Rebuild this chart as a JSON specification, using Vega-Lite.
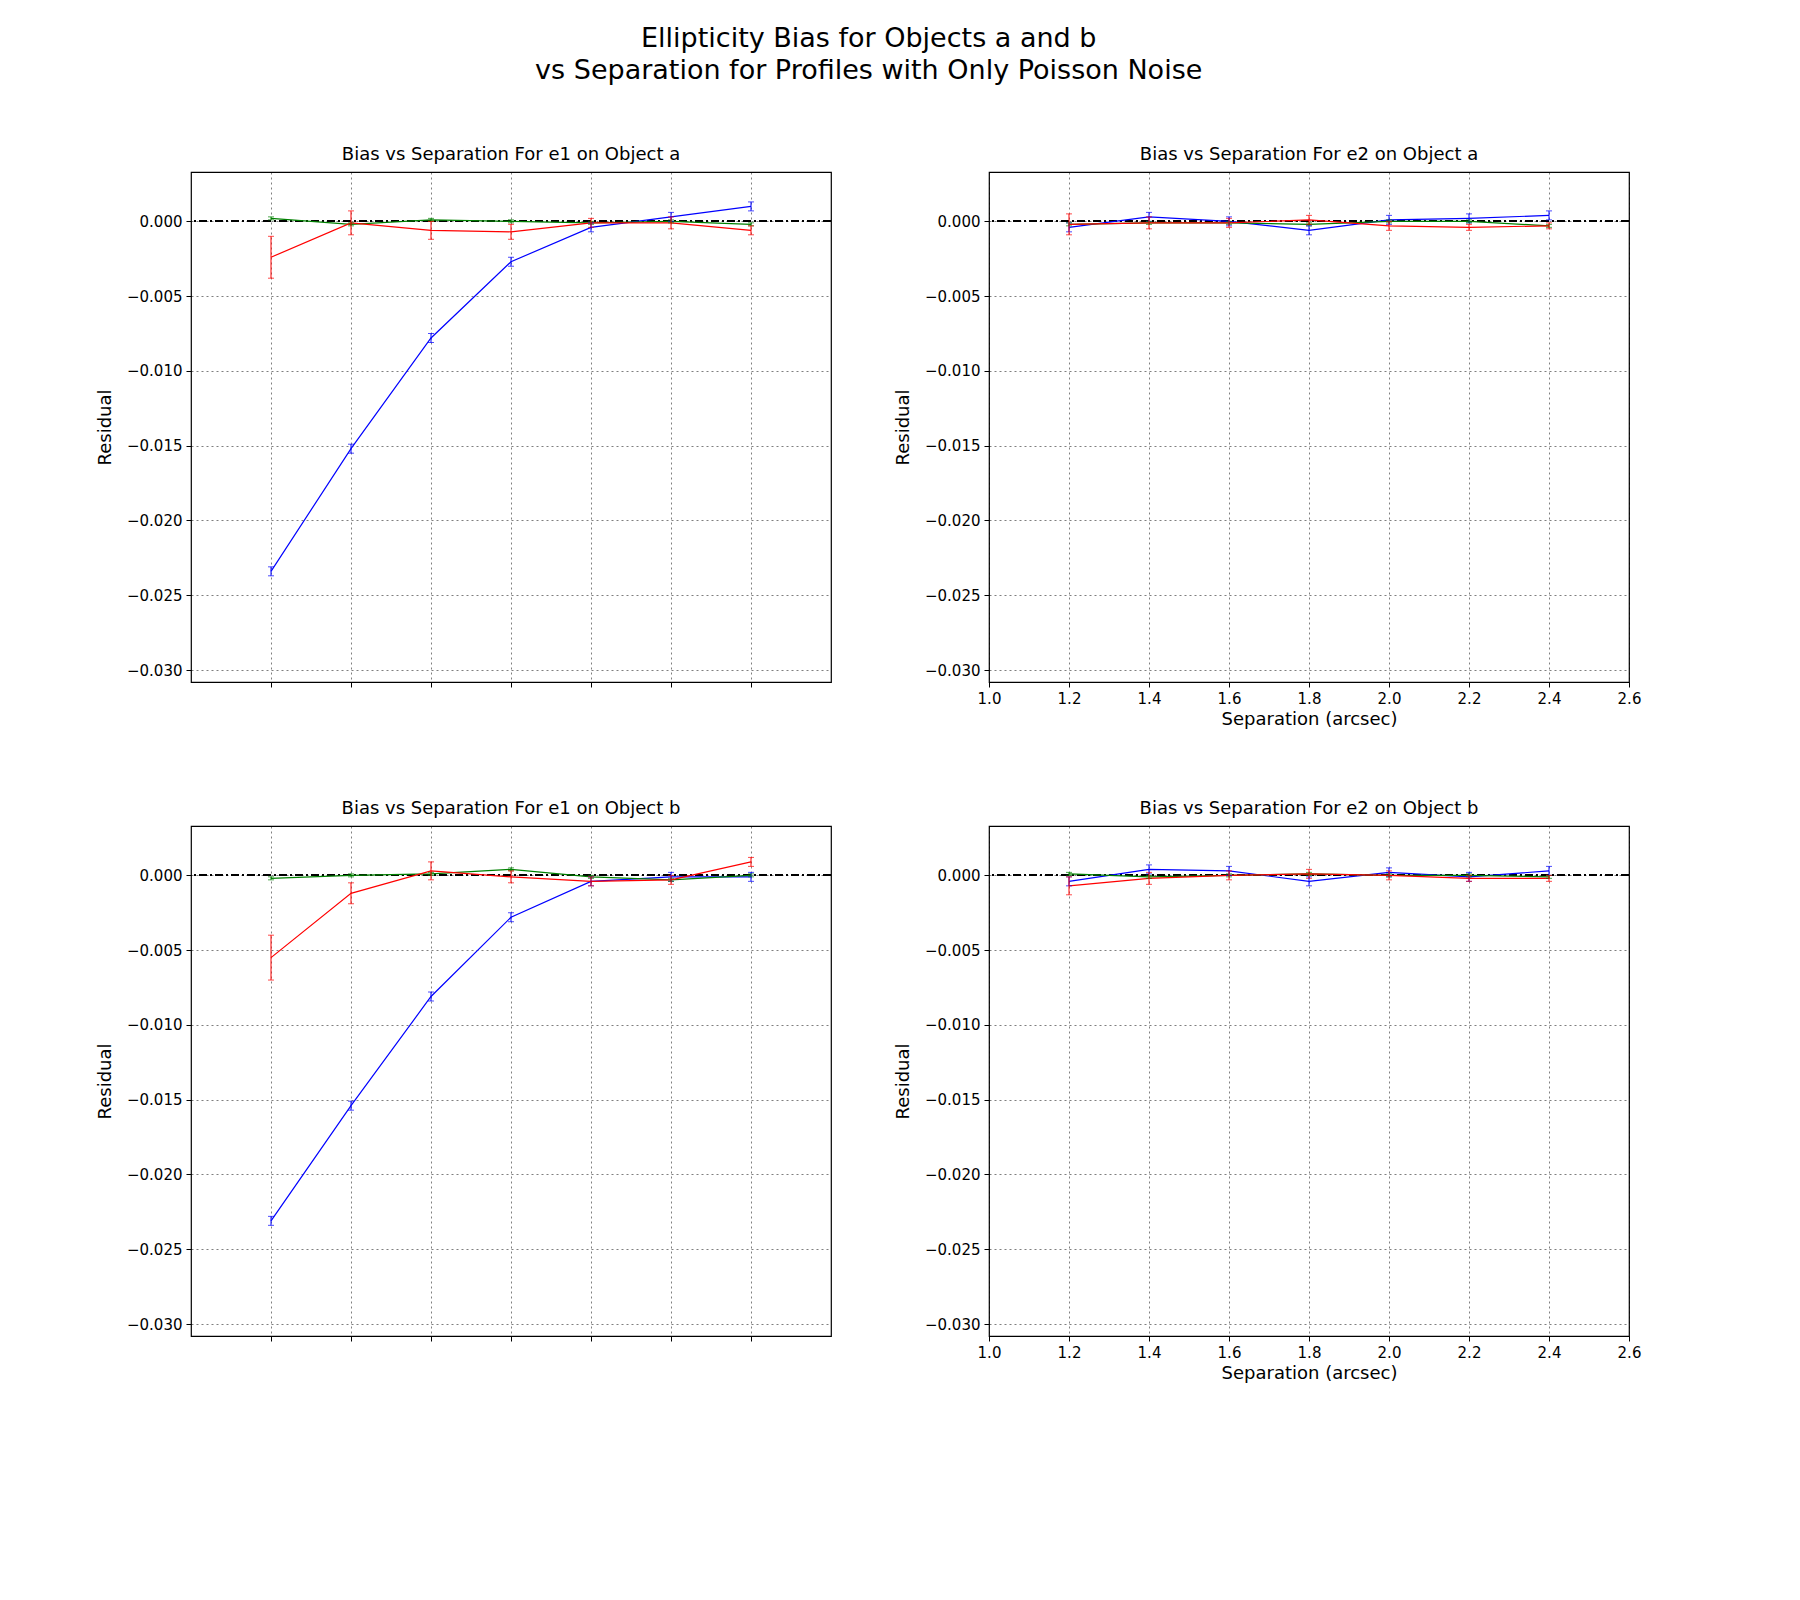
{
  "$schema": "https://vega.github.io/schema/vega-lite/v6.json",
  "background": "white",
  "padding": {"left": 95, "top": 25, "right": 20, "bottom": 10},
  "title": {"text": ["Ellipticity Bias for Objects a and b", "vs Separation for Profiles with Only Poisson Noise"], "fontSize": 27, "fontWeight": "normal", "font": "DejaVu Sans", "anchor": "middle", "offset": 60, "lineHeight": 32},
  "datasets": {
    "pts": [
      {"panel": "e1a", "series": "Deblending", "x": 1.2, "y": -0.0234, "err": 0.0003},
      {"panel": "e1a", "series": "Deblending", "x": 1.4, "y": -0.0152, "err": 0.0003},
      {"panel": "e1a", "series": "Deblending", "x": 1.6, "y": -0.0078, "err": 0.0003},
      {"panel": "e1a", "series": "Deblending", "x": 1.8, "y": -0.0027, "err": 0.0003},
      {"panel": "e1a", "series": "Deblending", "x": 2.0, "y": -0.0004, "err": 0.0003},
      {"panel": "e1a", "series": "Deblending", "x": 2.2, "y": 0.0003, "err": 0.0003},
      {"panel": "e1a", "series": "Deblending", "x": 2.4, "y": 0.0010, "err": 0.0003},
      {"panel": "e1a", "series": "True", "x": 1.2, "y": 0.0002, "err": 0.0001},
      {"panel": "e1a", "series": "True", "x": 1.4, "y": -0.0002, "err": 0.0001},
      {"panel": "e1a", "series": "True", "x": 1.6, "y": 0.0001, "err": 0.0001},
      {"panel": "e1a", "series": "True", "x": 1.8, "y": 0.0, "err": 0.0001},
      {"panel": "e1a", "series": "True", "x": 2.0, "y": -0.0001, "err": 0.0001},
      {"panel": "e1a", "series": "True", "x": 2.2, "y": 0.0, "err": 0.0001},
      {"panel": "e1a", "series": "True", "x": 2.4, "y": -0.0002, "err": 0.0001},
      {"panel": "e1a", "series": "Simultaneous Fitting", "x": 1.2, "y": -0.0024, "err": 0.0014},
      {"panel": "e1a", "series": "Simultaneous Fitting", "x": 1.4, "y": -0.0001, "err": 0.0008},
      {"panel": "e1a", "series": "Simultaneous Fitting", "x": 1.6, "y": -0.0006, "err": 0.0006},
      {"panel": "e1a", "series": "Simultaneous Fitting", "x": 1.8, "y": -0.0007, "err": 0.0005},
      {"panel": "e1a", "series": "Simultaneous Fitting", "x": 2.0, "y": -0.0001, "err": 0.0003},
      {"panel": "e1a", "series": "Simultaneous Fitting", "x": 2.2, "y": -0.0001, "err": 0.0004},
      {"panel": "e1a", "series": "Simultaneous Fitting", "x": 2.4, "y": -0.0006, "err": 0.0003},

      {"panel": "e2a", "series": "Deblending", "x": 1.2, "y": -0.0004, "err": 0.0003},
      {"panel": "e2a", "series": "Deblending", "x": 1.4, "y": 0.0003, "err": 0.0003},
      {"panel": "e2a", "series": "Deblending", "x": 1.6, "y": 0.0, "err": 0.0003},
      {"panel": "e2a", "series": "Deblending", "x": 1.8, "y": -0.0006, "err": 0.0003},
      {"panel": "e2a", "series": "Deblending", "x": 2.0, "y": 0.0001, "err": 0.0003},
      {"panel": "e2a", "series": "Deblending", "x": 2.2, "y": 0.0002, "err": 0.0003},
      {"panel": "e2a", "series": "Deblending", "x": 2.4, "y": 0.0004, "err": 0.0003},
      {"panel": "e2a", "series": "True", "x": 1.2, "y": -0.0002, "err": 0.0001},
      {"panel": "e2a", "series": "True", "x": 1.4, "y": -0.0001, "err": 0.0001},
      {"panel": "e2a", "series": "True", "x": 1.6, "y": -0.0001, "err": 0.0001},
      {"panel": "e2a", "series": "True", "x": 1.8, "y": -0.0002, "err": 0.0001},
      {"panel": "e2a", "series": "True", "x": 2.0, "y": 0.0, "err": 0.0001},
      {"panel": "e2a", "series": "True", "x": 2.2, "y": 0.0, "err": 0.0001},
      {"panel": "e2a", "series": "True", "x": 2.4, "y": -0.0003, "err": 0.0001},
      {"panel": "e2a", "series": "Simultaneous Fitting", "x": 1.2, "y": -0.0002, "err": 0.0007},
      {"panel": "e2a", "series": "Simultaneous Fitting", "x": 1.4, "y": -0.0001, "err": 0.0004},
      {"panel": "e2a", "series": "Simultaneous Fitting", "x": 1.6, "y": -0.0001, "err": 0.0003},
      {"panel": "e2a", "series": "Simultaneous Fitting", "x": 1.8, "y": 0.0001, "err": 0.0003},
      {"panel": "e2a", "series": "Simultaneous Fitting", "x": 2.0, "y": -0.0003, "err": 0.0003},
      {"panel": "e2a", "series": "Simultaneous Fitting", "x": 2.2, "y": -0.0004, "err": 0.0002},
      {"panel": "e2a", "series": "Simultaneous Fitting", "x": 2.4, "y": -0.0003, "err": 0.0002},

      {"panel": "e1b", "series": "Deblending", "x": 1.2, "y": -0.0231, "err": 0.0003},
      {"panel": "e1b", "series": "Deblending", "x": 1.4, "y": -0.0154, "err": 0.0003},
      {"panel": "e1b", "series": "Deblending", "x": 1.6, "y": -0.0081, "err": 0.0003},
      {"panel": "e1b", "series": "Deblending", "x": 1.8, "y": -0.0028, "err": 0.0003},
      {"panel": "e1b", "series": "Deblending", "x": 2.0, "y": -0.0004, "err": 0.0003},
      {"panel": "e1b", "series": "Deblending", "x": 2.2, "y": -0.0001, "err": 0.0003},
      {"panel": "e1b", "series": "Deblending", "x": 2.4, "y": -0.0001, "err": 0.0003},
      {"panel": "e1b", "series": "True", "x": 1.2, "y": -0.0002, "err": 0.0001},
      {"panel": "e1b", "series": "True", "x": 1.4, "y": 0.0, "err": 0.0001},
      {"panel": "e1b", "series": "True", "x": 1.6, "y": 0.0001, "err": 0.0001},
      {"panel": "e1b", "series": "True", "x": 1.8, "y": 0.0004, "err": 0.0001},
      {"panel": "e1b", "series": "True", "x": 2.0, "y": -0.0001, "err": 0.0001},
      {"panel": "e1b", "series": "True", "x": 2.2, "y": -0.0003, "err": 0.0001},
      {"panel": "e1b", "series": "True", "x": 2.4, "y": 0.0, "err": 0.0001},
      {"panel": "e1b", "series": "Simultaneous Fitting", "x": 1.2, "y": -0.0055, "err": 0.0015},
      {"panel": "e1b", "series": "Simultaneous Fitting", "x": 1.4, "y": -0.0012, "err": 0.0007},
      {"panel": "e1b", "series": "Simultaneous Fitting", "x": 1.6, "y": 0.0003, "err": 0.0006},
      {"panel": "e1b", "series": "Simultaneous Fitting", "x": 1.8, "y": -0.0001, "err": 0.0004},
      {"panel": "e1b", "series": "Simultaneous Fitting", "x": 2.0, "y": -0.0004, "err": 0.0003},
      {"panel": "e1b", "series": "Simultaneous Fitting", "x": 2.2, "y": -0.0003, "err": 0.0003},
      {"panel": "e1b", "series": "Simultaneous Fitting", "x": 2.4, "y": 0.0009, "err": 0.0003},

      {"panel": "e2b", "series": "Deblending", "x": 1.2, "y": -0.0004, "err": 0.0003},
      {"panel": "e2b", "series": "Deblending", "x": 1.4, "y": 0.0004, "err": 0.0003},
      {"panel": "e2b", "series": "Deblending", "x": 1.6, "y": 0.0003, "err": 0.0003},
      {"panel": "e2b", "series": "Deblending", "x": 1.8, "y": -0.0004, "err": 0.0003},
      {"panel": "e2b", "series": "Deblending", "x": 2.0, "y": 0.0002, "err": 0.0003},
      {"panel": "e2b", "series": "Deblending", "x": 2.2, "y": -0.0001, "err": 0.0003},
      {"panel": "e2b", "series": "Deblending", "x": 2.4, "y": 0.0003, "err": 0.0003},
      {"panel": "e2b", "series": "True", "x": 1.2, "y": 0.0001, "err": 0.0001},
      {"panel": "e2b", "series": "True", "x": 1.4, "y": -0.0001, "err": 0.0001},
      {"panel": "e2b", "series": "True", "x": 1.6, "y": 0.0, "err": 0.0001},
      {"panel": "e2b", "series": "True", "x": 1.8, "y": 0.0001, "err": 0.0001},
      {"panel": "e2b", "series": "True", "x": 2.0, "y": 0.0, "err": 0.0001},
      {"panel": "e2b", "series": "True", "x": 2.2, "y": 0.0, "err": 0.0001},
      {"panel": "e2b", "series": "True", "x": 2.4, "y": -0.0001, "err": 0.0001},
      {"panel": "e2b", "series": "Simultaneous Fitting", "x": 1.2, "y": -0.0007, "err": 0.0006},
      {"panel": "e2b", "series": "Simultaneous Fitting", "x": 1.4, "y": -0.0002, "err": 0.0004},
      {"panel": "e2b", "series": "Simultaneous Fitting", "x": 1.6, "y": 0.0, "err": 0.0003},
      {"panel": "e2b", "series": "Simultaneous Fitting", "x": 1.8, "y": 0.0001, "err": 0.0003},
      {"panel": "e2b", "series": "Simultaneous Fitting", "x": 2.0, "y": 0.0, "err": 0.0003},
      {"panel": "e2b", "series": "Simultaneous Fitting", "x": 2.2, "y": -0.0002, "err": 0.0002},
      {"panel": "e2b", "series": "Simultaneous Fitting", "x": 2.4, "y": -0.0002, "err": 0.0002}
    ]
  },
  "vconcat": [
    {"resolve": {"scale": {"color": "independent"}}, "hconcat": [
      {"title": "Bias vs Separation For e1 on Object a", "width": 640, "height": 510, "data": {"name": "pts"}, "transform": [{"filter": "datum.panel === 'e1a'"}],
       "layer": [
        {"mark": {"type": "rule", "color": "black", "strokeDash": [8, 3, 2, 3], "strokeWidth": 1.2}, "encoding": {"y": {"datum": 0}}},
        {"mark": {"type": "line", "strokeWidth": 1.2}, "encoding": {"x": {"field": "x", "type": "quantitative", "scale": {"domain": [1.0, 2.6]}, "axis": {"labels": false, "title": null, "values": [1.2, 1.4, 1.6, 1.8, 2.0, 2.2, 2.4]}}, "y": {"field": "y", "type": "quantitative", "scale": {"domain": [-0.0308, 0.0033], "nice": false}, "axis": {"title": "Residual", "values": [0, -0.005, -0.01, -0.015, -0.02, -0.025, -0.03]}}, "color": {"field": "series", "type": "nominal", "scale": {"domain": ["Deblending", "True", "Simultaneous Fitting"]}}}},
        {"mark": {"type": "errorbar", "ticks": {"size": 6}}, "encoding": {"x": {"field": "x", "type": "quantitative"}, "y": {"field": "y", "type": "quantitative", "title": "Residual"}, "yError": {"field": "err"}, "color": {"field": "series", "type": "nominal", "legend": null}}}
       ]},
      {"title": "Bias vs Separation For e2 on Object a", "width": 640, "height": 510, "data": {"name": "pts"}, "transform": [{"filter": "datum.panel === 'e2a'"}],
       "layer": [
        {"mark": {"type": "rule", "color": "black", "strokeDash": [8, 3, 2, 3], "strokeWidth": 1.2}, "encoding": {"y": {"datum": 0}}},
        {"mark": {"type": "line", "strokeWidth": 1.2}, "encoding": {"x": {"field": "x", "type": "quantitative", "scale": {"domain": [1.0, 2.6]}, "axis": {"title": "Separation (arcsec)", "format": ".1f", "values": [1.0, 1.2, 1.4, 1.6, 1.8, 2.0, 2.2, 2.4, 2.6]}}, "y": {"field": "y", "type": "quantitative", "scale": {"domain": [-0.0308, 0.0033], "nice": false}, "axis": {"title": "Residual", "values": [0, -0.005, -0.01, -0.015, -0.02, -0.025, -0.03]}}, "color": {"field": "series", "type": "nominal", "scale": {"domain": ["Deblending", "True", "Simultaneous Fitting"]}}}},
        {"mark": {"type": "errorbar", "ticks": {"size": 6}}, "encoding": {"x": {"field": "x", "type": "quantitative"}, "y": {"field": "y", "type": "quantitative", "title": "Residual"}, "yError": {"field": "err"}, "color": {"field": "series", "type": "nominal", "legend": null}}}
       ]}
    ]},
    {"resolve": {"scale": {"color": "independent"}}, "hconcat": [
      {"title": "Bias vs Separation For e1 on Object b", "width": 640, "height": 510, "data": {"name": "pts"}, "transform": [{"filter": "datum.panel === 'e1b'"}],
       "layer": [
        {"mark": {"type": "rule", "color": "black", "strokeDash": [8, 3, 2, 3], "strokeWidth": 1.2}, "encoding": {"y": {"datum": 0}}},
        {"mark": {"type": "line", "strokeWidth": 1.2}, "encoding": {"x": {"field": "x", "type": "quantitative", "scale": {"domain": [1.0, 2.6]}, "axis": {"labels": false, "title": null, "values": [1.2, 1.4, 1.6, 1.8, 2.0, 2.2, 2.4]}}, "y": {"field": "y", "type": "quantitative", "scale": {"domain": [-0.0308, 0.0033], "nice": false}, "axis": {"title": "Residual", "values": [0, -0.005, -0.01, -0.015, -0.02, -0.025, -0.03]}}, "color": {"field": "series", "type": "nominal", "scale": {"domain": ["Deblending", "True", "Simultaneous Fitting"]}}}},
        {"mark": {"type": "errorbar", "ticks": {"size": 6}}, "encoding": {"x": {"field": "x", "type": "quantitative"}, "y": {"field": "y", "type": "quantitative", "title": "Residual"}, "yError": {"field": "err"}, "color": {"field": "series", "type": "nominal", "legend": null}}}
       ]},
      {"title": "Bias vs Separation For e2 on Object b", "width": 640, "height": 510, "data": {"name": "pts"}, "transform": [{"filter": "datum.panel === 'e2b'"}],
       "layer": [
        {"mark": {"type": "rule", "color": "black", "strokeDash": [8, 3, 2, 3], "strokeWidth": 1.2}, "encoding": {"y": {"datum": 0}}},
        {"mark": {"type": "line", "strokeWidth": 1.2}, "encoding": {"x": {"field": "x", "type": "quantitative", "scale": {"domain": [1.0, 2.6]}, "axis": {"title": "Separation (arcsec)", "format": ".1f", "values": [1.0, 1.2, 1.4, 1.6, 1.8, 2.0, 2.2, 2.4, 2.6]}}, "y": {"field": "y", "type": "quantitative", "scale": {"domain": [-0.0308, 0.0033], "nice": false}, "axis": {"title": "Residual", "values": [0, -0.005, -0.01, -0.015, -0.02, -0.025, -0.03]}}, "color": {"field": "series", "type": "nominal", "scale": {"domain": ["Deblending", "True", "Simultaneous Fitting"]}}}},
        {"mark": {"type": "errorbar", "ticks": {"size": 6}}, "encoding": {"x": {"field": "x", "type": "quantitative"}, "y": {"field": "y", "type": "quantitative", "title": "Residual"}, "yError": {"field": "err"}, "color": {"field": "series", "type": "nominal", "legend": null}}}
       ]}
    ]}
  ],
  "spacing": 70,
  "resolve": {"scale": {"color": "independent"}},
  "config": {
    "font": "DejaVu Sans",
    "concat": {"spacing": 60},
    "view": {"stroke": "black", "strokeWidth": 1.2},
    "title": {"fontSize": 18, "fontWeight": "normal", "offset": 8},
    "axis": {"grid": true, "gridDash": [2, 3], "gridColor": "#000", "gridOpacity": 0.5, "domain": false, "tickColor": "black", "tickSize": 5, "labelFontSize": 15, "labelColor": "black", "titleFontSize": 18, "titleFontWeight": "normal", "titleColor": "black", "labelPadding": 4},
    "axisY": {"format": ".3f", "titlePadding": 12, "labelFlush": false},
    "axisX": {"labelFlush": false},
    "scale": {"zero": false},
    "range": {"category": ["#0000ff", "#008000", "#ff0000"]},
    "legend": {"orient": "bottom", "direction": "horizontal", "title": null, "strokeColor": "black", "padding": 6, "cornerRadius": 3, "labelFontSize": 15, "symbolType": "stroke", "symbolSize": 500, "symbolStrokeWidth": 1.5, "columnPadding": 30, "offset": 40, "labelLimit": 300, "layout": {"bottom": {"anchor": "middle"}}}
  }
}
